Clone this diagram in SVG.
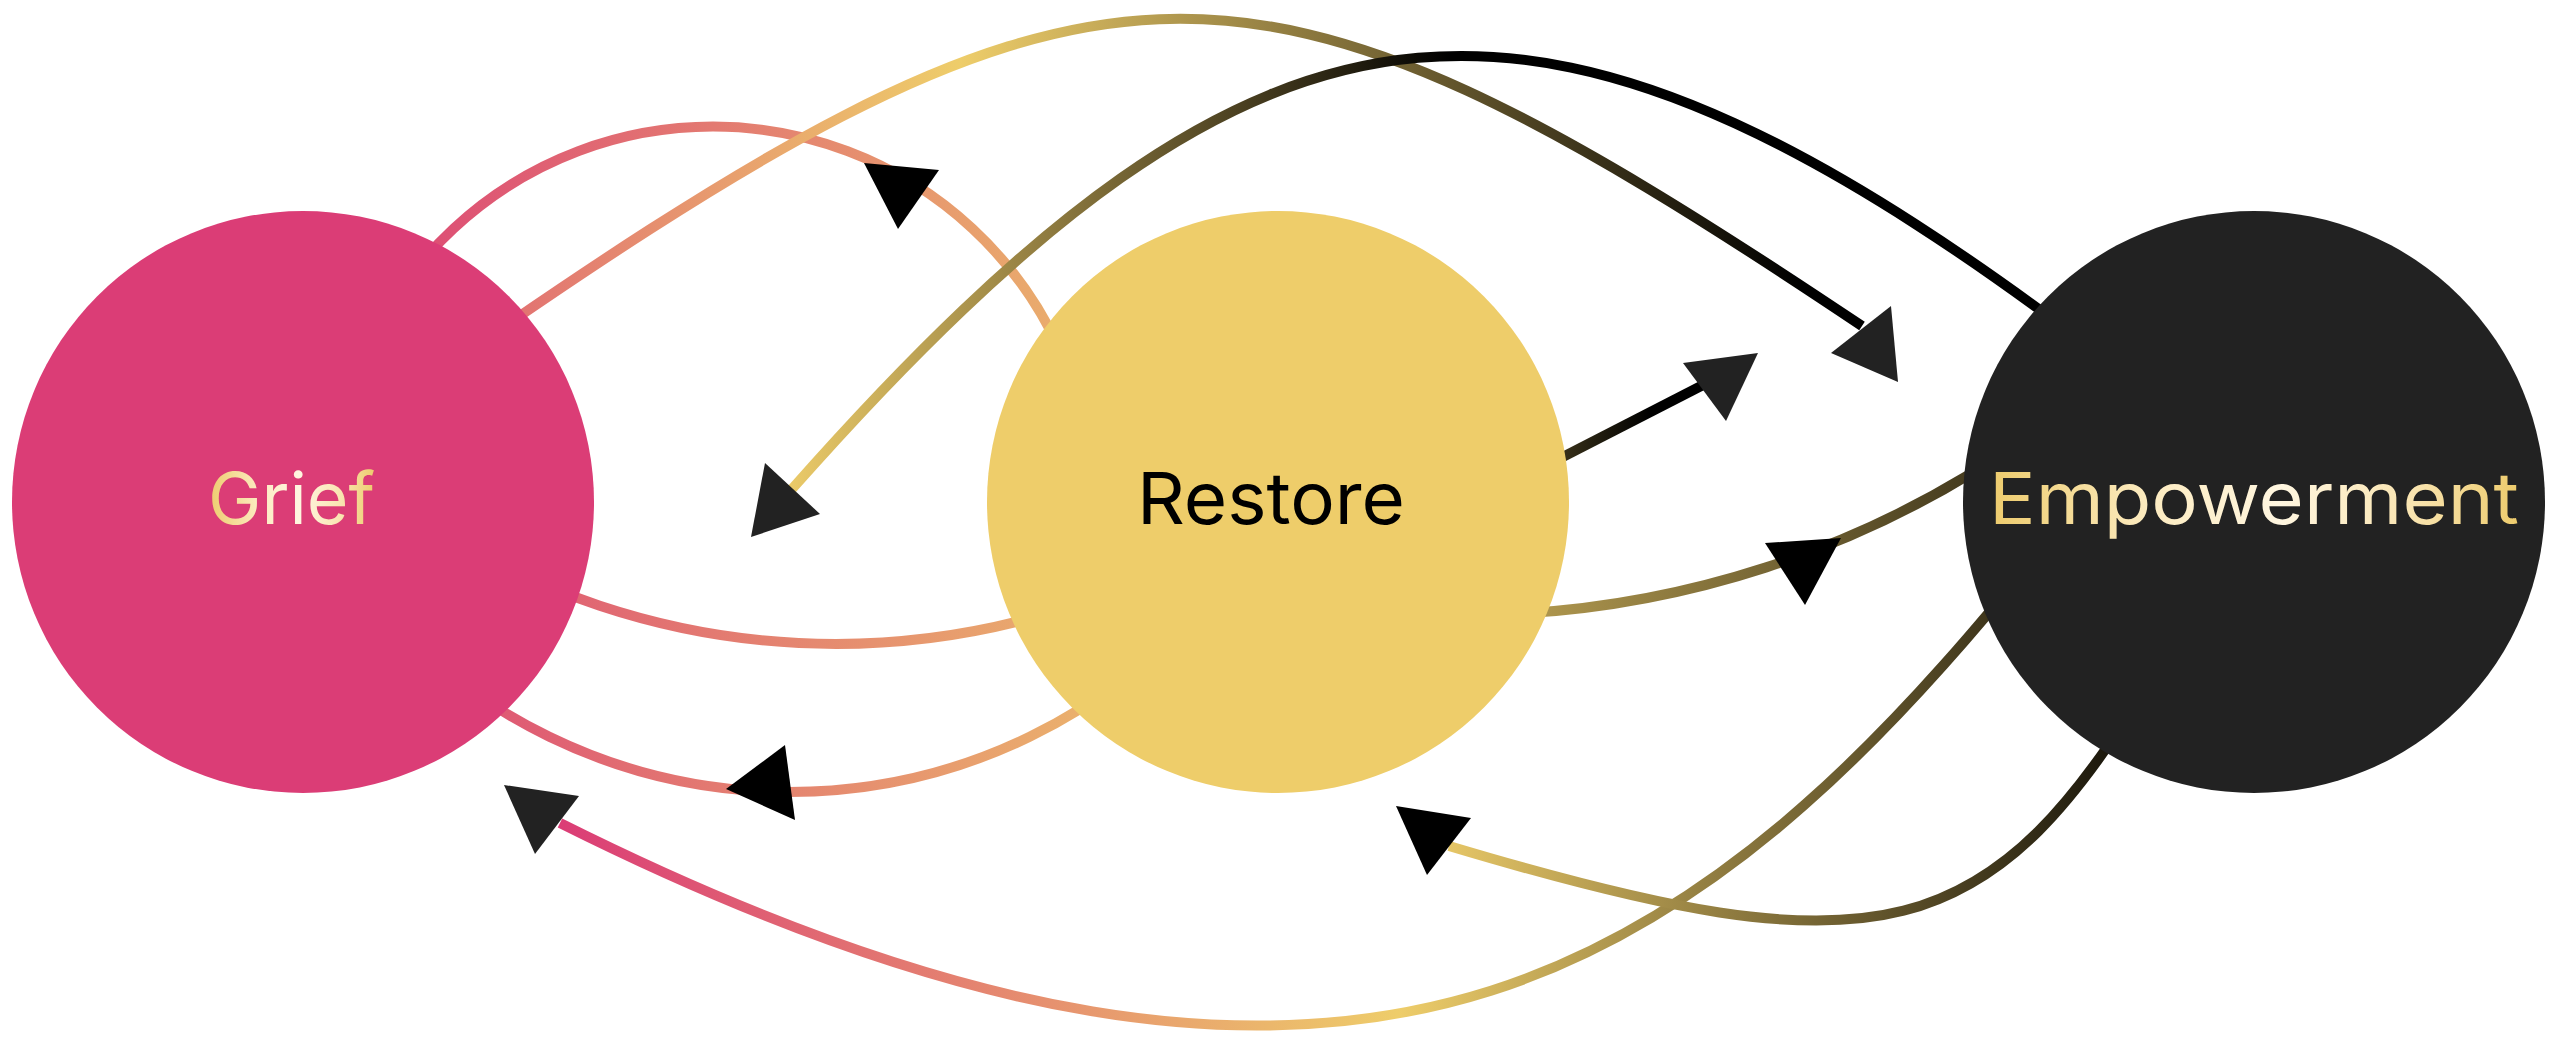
<svg xmlns="http://www.w3.org/2000/svg" width="2560" height="1064" viewBox="0 0 2560 1064">
<defs>
<style>
.edge{fill:none;stroke-width:10;stroke-linecap:butt}
.lbl{font-family:Inter,"Liberation Sans",sans-serif;font-size:72px;font-weight:400}
.ah1{fill:#000}
.ah2{fill:#222}
</style>
<linearGradient id="gPY" gradientUnits="userSpaceOnUse" x1="303" y1="0" x2="1278" y2="0"><stop offset="0" stop-color="#DB3D76"/><stop offset="1" stop-color="#EECD6A"/></linearGradient>
<linearGradient id="gE2" gradientUnits="userSpaceOnUse" x1="250" y1="0" x2="1800" y2="0"><stop offset="0" stop-color="#DB3D76"/><stop offset="0.458" stop-color="#EECD6A"/><stop offset="1" stop-color="#000"/></linearGradient>
<linearGradient id="gE3" gradientUnits="userSpaceOnUse" x1="780" y1="0" x2="1450" y2="0"><stop offset="0" stop-color="#EECD6A"/><stop offset="1" stop-color="#000"/></linearGradient>
<linearGradient id="gYK" gradientUnits="userSpaceOnUse" x1="1278" y1="0" x2="2254" y2="0"><stop offset="0" stop-color="#EECD6A"/><stop offset="1" stop-color="#000"/></linearGradient>
<linearGradient id="gE6" gradientUnits="userSpaceOnUse" x1="560" y1="0" x2="2200" y2="0"><stop offset="0" stop-color="#DB3D76"/><stop offset="0.512" stop-color="#EECD6A"/><stop offset="1" stop-color="#000"/></linearGradient>
<linearGradient id="gE7" gradientUnits="userSpaceOnUse" x1="1420" y1="0" x2="2200" y2="0"><stop offset="0" stop-color="#EECD6A"/><stop offset="1" stop-color="#000"/></linearGradient>
<linearGradient id="gE8" gradientUnits="userSpaceOnUse" x1="1278" y1="0" x2="1650" y2="0"><stop offset="0" stop-color="#EECD6A"/><stop offset="1" stop-color="#000"/></linearGradient>
<linearGradient id="gTxt" x1="0" y1="0" x2="1" y2="0"><stop offset="0" stop-color="#EDCB6C"/><stop offset="0.3" stop-color="#FCEBC0"/><stop offset="0.55" stop-color="#FFF6E0"/><stop offset="0.8" stop-color="#F9E4B0"/><stop offset="1" stop-color="#EDCB6C"/></linearGradient>
</defs>
<rect width="2560" height="1064" fill="#fff"/>
<g id="connectors">
<path id="e1" class="edge" stroke="url(#gPY)" d="M333,480 A381,381 0 0,1 1093,480"/>
<path id="e2" class="edge" stroke="url(#gE2)" d="M420,385 C1098,-90 1232.5,-95.8 1862,326"/>
<path id="e3" class="edge" stroke="url(#gE3)" d="M792,489 C1272.8,-54.2 1538.4,-78 2120,370"/>
<path id="e4a" class="edge" stroke="url(#gPY)" d="M397,502 A750,750 0 0,0 1275,502"/>
<path id="e4b" class="edge" stroke="url(#gYK)" d="M1450,615 A975,975 0 0,0 2050,420"/>
<path id="e5" class="edge" stroke="url(#gPY)" d="M372,600 A550,550 0 0,0 1207,600"/>
<path id="e6" class="edge" stroke="url(#gE6)" d="M560,823 C1380.8,1233.4 1715.2,967.4 2080,500"/>
<path id="e7" class="edge" stroke="url(#gE7)" d="M1449,846 C1883.4,976 1990,948.9 2160,665"/>
<path id="e8" class="edge" stroke="url(#gE8)" d="M1450,515 L1705,384"/>
<polygon class="ah1" points="864,163 939,170 898,229"/>
<polygon class="ah2" points="765,463 820,514 751,537"/>
<polygon class="ah1" points="785,745 795,820 726,789"/>
<polygon class="ah2" points="504,785 579,796 535,854"/>
<polygon class="ah2" points="1683,363 1758,353 1726,421"/>
<polygon class="ah1" points="1765,543 1841,538 1805,605"/>
<polygon class="ah1" points="1396,806 1471,818 1427,875"/>
<polygon class="ah2" points="1831,353 1891,306 1898,382"/>
</g>
<g id="node-grief">
<circle cx="303" cy="502" r="291" fill="#DB3D76"/>
<text class="lbl" x="208" y="524" textLength="167" lengthAdjust="spacingAndGlyphs" fill="url(#gTxt)">Grief</text>
</g>
<g id="node-restore">
<circle cx="1278" cy="502" r="291" fill="#EECD6A"/>
<text class="lbl" x="1137" y="524" textLength="268" lengthAdjust="spacingAndGlyphs" fill="#000">Restore</text>
</g>
<g id="node-empowerment">
<circle cx="2254" cy="502" r="291" fill="#222222"/>
<text class="lbl" x="1989" y="524" textLength="530" lengthAdjust="spacingAndGlyphs" fill="url(#gTxt)">Empowerment</text>
</g>
</svg>
